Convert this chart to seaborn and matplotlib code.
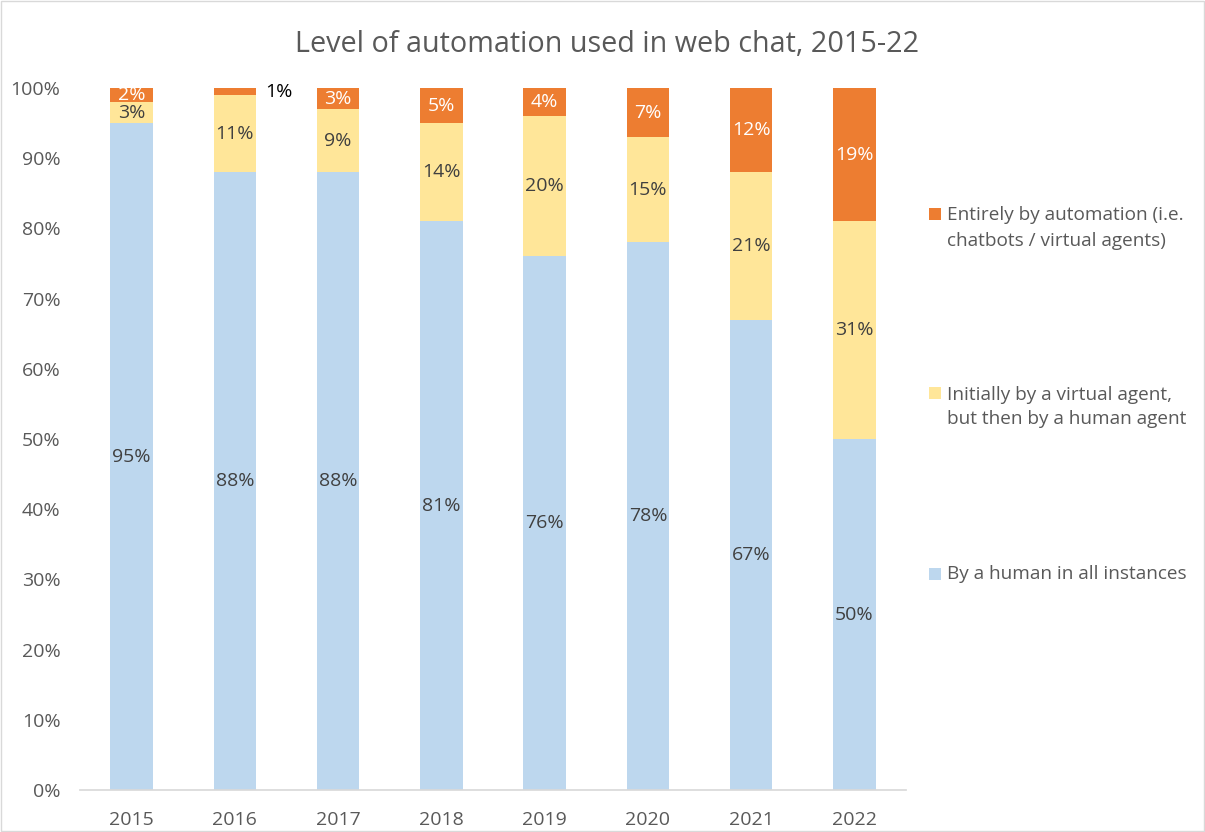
import numpy as np
import pandas as pd
import matplotlib.pyplot as plt
import seaborn as sns
from matplotlib.patches import Rectangle

sns.set_theme(style="white")
plt.rcParams['font.family'] = ['Open Sans', 'DejaVu Sans']

# Données
years = ['2015', '2016', '2017', '2018', '2019', '2020', '2021', '2022']
human = [95, 88, 88, 81, 76, 78, 67, 50]
virtual = [3, 11, 9, 14, 20, 15, 21, 31]
automation = [2, 1, 3, 5, 4, 7, 12, 19]

series_names = ['By a human in all instances',
                'Initially by a virtual agent,\nbut then by a human agent',
                'Entirely by automation (i.e.\nchatbots / virtual agents)']
colors = ['#BDD7EE', '#FFE699', '#ED7D31']
label_colors = ['#404040', '#404040', 'white']

df = pd.DataFrame({'year': years, 'human': human, 'virtual': virtual, 'automation': automation})
df['cum1'] = df['human']
df['cum2'] = df['human'] + df['virtual']
df['cum3'] = df['cum2'] + df['automation']

FS = 14

fig = plt.figure(figsize=(12.05, 8.32), dpi=100)
ax = fig.add_axes([80 / 1205, 1 - 790 / 832, 826 / 1205, (790 - 88) / 832])

# Barres empilées : on trace les cumuls du plus haut au plus bas
for col, c in zip(['cum3', 'cum2', 'cum1'], colors[::-1]):
    sns.barplot(data=df, x='year', y=col, color=c, width=0.41, saturation=1,
                linewidth=0, ax=ax)

# Étiquettes
parts = [('human', 'cum1'), ('virtual', 'cum2'), ('automation', 'cum3')]
for (val_col, cum_col), lc in zip(parts, label_colors):
    for i, row in df.iterrows():
        v = row[val_col]
        mid = row[cum_col] - v / 2
        if val_col == 'automation' and v < 2:
            ax.text(i + 0.29, row[cum_col] - 0.6, f"{v}%", ha='left', va='center',
                    fontsize=FS, color='black')
        else:
            ax.text(i, mid, f"{v}%", ha='center', va='center', fontsize=FS, color=lc)

ax.set_ylim(0, 100)
ax.set_xlim(-0.5, len(years) - 0.5)
ax.set_yticks(np.arange(0, 101, 10))
ax.set_yticklabels([f"{t}%" for t in range(0, 101, 10)])
ax.tick_params(axis='both', labelsize=FS, labelcolor='#595959', length=0)
ax.tick_params(axis='x', pad=15)
ax.tick_params(axis='y', pad=14)
ax.set_xlabel('')
ax.set_ylabel('')
for s in ['top', 'right', 'left']:
    ax.spines[s].set_visible(False)
ax.spines['bottom'].set_color('#D9D9D9')
ax.set_facecolor('white')

fig.text(607 / 1205, 1 - 44 / 832, 'Level of automation used in web chat, 2015-22',
         ha='center', va='center', fontsize=20.7, color='#595959')

# Légende
leg_y = [574, 407, 228]
for name, c, y in zip(series_names, colors, leg_y):
    nlines = name.count('\n') + 1
    ytop = y - (nlines - 1) * 14
    fig.add_artist(Rectangle((929 / 1205, 1 - (ytop + 6) / 832), 12 / 1205, 12 / 832,
                             facecolor=c, edgecolor='none', transform=fig.transFigure))
    fig.text(947 / 1205, 1 - y / 832, name, ha='left', va='center', fontsize=13.7,
             color='#595959', linespacing=1.5)

# Cadre
fig.add_artist(Rectangle((0.001, 0.001), 0.998, 0.998, fill=False, edgecolor='#D9D9D9',
                         linewidth=1, transform=fig.transFigure))

plt.savefig('out.png', dpi=100)
